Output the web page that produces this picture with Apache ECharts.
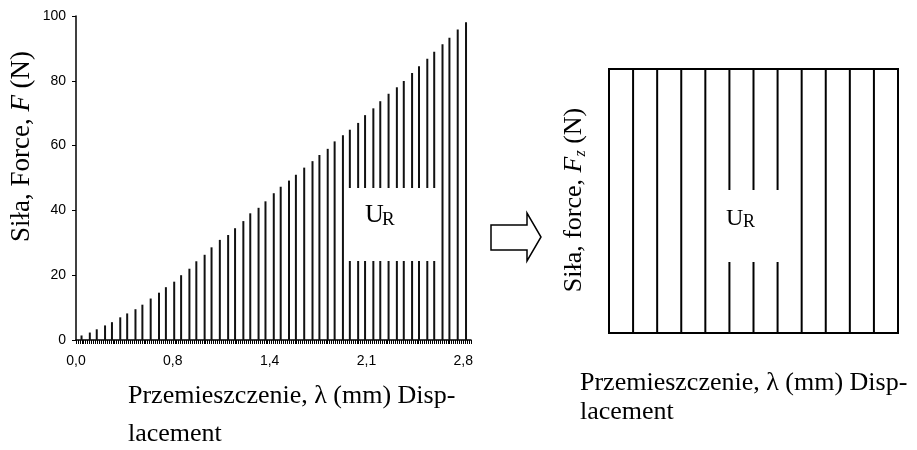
<!DOCTYPE html>
<html>
<head>
<meta charset="utf-8">
<script src="https://cdn.jsdelivr.net/npm/echarts@6/dist/echarts.min.js"></script>
<style>html,body{margin:0;padding:0;background:#fff}#c{width:917px;height:450px}</style>
</head>
<body>
<div id="c"></div>
<script>
// Left chart: displacement (mm) and force (N)
const displacement = [0.04,0.10,0.15,0.21,0.26,0.32,0.37,0.43,0.48,0.54,0.60,0.65,0.71,0.76,0.82,0.87,0.93,0.98,1.04,1.10,1.15,1.21,1.26,1.32,1.37,1.43,1.48,1.54,1.59,1.65,1.71,1.76,1.82,1.87,1.93,1.98,2.04,2.09,2.15,2.20,2.26,2.32,2.37,2.43,2.48,2.54,2.59,2.65,2.70,2.76,2.82];
const force = [1.4,2.3,3.3,4.5,5.5,7.0,8.2,9.5,10.9,12.8,14.6,16.3,18.0,20.0,22.0,24.3,26.3,28.6,30.9,32.4,34.5,36.7,39.1,40.8,42.8,45.3,47.3,49.2,51.0,53.2,55.2,57.1,59.0,61.3,63.2,64.9,67.0,69.4,71.5,73.7,76.0,78.0,79.9,82.4,84.5,86.8,89.0,91.3,93.3,95.8,98.1];
const xTickLabels = ['0,0','0,8','1,4','2,1','2,8'];
const yTickLabels = ['0','20','40','60','80','100'];
// Right chart: constant force lines
const rightPos = [0,1,2,3,4,5,6,7,8,9,10,11,12];
const rightForce = [100,100,100,100,100,100,100,100,100,100,100,100,100];

const serif = 'Liberation Serif';
const sans = 'Liberation Sans';
const chart = echarts.init(document.getElementById('c'), null, {renderer:'canvas'});

const option = {
  animation: false,
  backgroundColor: '#fff',
  grid: [
    {left: 76, top: 16, width: 395, height: 324},
    {left: 609, top: 69, width: 289, height: 264, show: true, borderColor: '#000', borderWidth: 2, backgroundColor: 'transparent'}
  ],
  xAxis: [
    {
      type: 'value', gridIndex: 0, min: 0, max: 2.856, interval: 0.014,
      axisLine: {show: true, lineStyle: {color: '#000', width: 1.5}},
      axisTick: {show: true, length: 4, lineStyle: {color: '#000', width: 1}},
      splitLine: {show: false},
      axisLabel: {
        margin: 14, fontSize: 14, fontFamily: sans, color: '#000',
        formatter: function (v) {
          const i = Math.round(v / 0.7);
          if (Math.abs(v - i * 0.7) < 1e-4 && i < xTickLabels.length) return xTickLabels[i];
          return '';
        }
      }
    },
    {
      type: 'value', gridIndex: 1, min: 0, max: 12,
      axisLine: {show: false}, axisTick: {show: false}, axisLabel: {show: false}, splitLine: {show: false}
    }
  ],
  yAxis: [
    {
      type: 'value', gridIndex: 0, min: 0, max: 100, interval: 20,
      axisLine: {show: true, lineStyle: {color: '#000', width: 1.5}},
      axisTick: {show: true, length: 4, lineStyle: {color: '#000'}},
      splitLine: {show: false},
      axisLabel: {
        margin: 10, fontSize: 14, fontFamily: sans, color: '#000',
        formatter: function (v) { return yTickLabels[Math.round(v / 20)]; }
      }
    },
    {
      type: 'value', gridIndex: 1, min: 0, max: 100,
      axisLine: {show: false}, axisTick: {show: false}, axisLabel: {show: false}, splitLine: {show: false}
    }
  ],
  series: [
    {
      type: 'bar', xAxisIndex: 0, yAxisIndex: 0, barWidth: 2,
      itemStyle: {color: '#111'},
      data: displacement.map((x, i) => [x, force[i]])
    },
    {
      type: 'bar', xAxisIndex: 1, yAxisIndex: 1, barWidth: 2, clip: false,
      itemStyle: {color: '#000'},
      data: rightPos.map((x, i) => [x, rightForce[i]])
    }
  ],
  graphic: [
    // white label boxes
    {type: 'rect', z: 100, shape: {x: 347, y: 188, width: 93.5, height: 73}, style: {fill: '#fff'}},
    {type: 'text', z: 101, x: 365, y: 215, style: {text: 'U', font: '26px ' + serif, fill: '#000', verticalAlign: 'middle', align: 'left'}},
    {type: 'text', z: 101, x: 382, y: 220, style: {text: 'R', font: '19px ' + serif, fill: '#000', verticalAlign: 'middle', align: 'left'}},
    {type: 'rect', z: 100, shape: {x: 708, y: 190, width: 92, height: 72}, style: {fill: '#fff'}},
    {type: 'text', z: 101, x: 726, y: 218.5, style: {text: 'U', font: '24px ' + serif, fill: '#000', verticalAlign: 'middle', align: 'left'}},
    {type: 'text', z: 101, x: 743, y: 222.5, style: {text: 'R', font: '18px ' + serif, fill: '#000', verticalAlign: 'middle', align: 'left'}},
    // arrow
    {type: 'polygon', z: 100, shape: {points: [[491,225],[527,225],[527,213],[541,237],[527,261],[527,250],[491,250]]},
      style: {fill: '#fff', stroke: '#000', lineWidth: 1.5}},
    // left y title
    {type: 'text', z: 100, x: 22, y: 146.5, rotation: Math.PI / 2,
      style: {text: 'Siła, Force, {i|F} (N)', font: '27px ' + serif, fill: '#000', align: 'center', verticalAlign: 'middle',
        rich: {i: {fontFamily: serif, fontSize: 27, fontStyle: 'italic', fill: '#000'}}}},
    // right y title
    {type: 'text', z: 100, x: 574, y: 200, rotation: Math.PI / 2,
      style: {text: 'Siła, force, {i|F}{s|z} (N)', font: '26px ' + serif, fill: '#000', align: 'center', verticalAlign: 'middle', lineHeight: 30,
        rich: {i: {fontFamily: serif, fontSize: 26, fontStyle: 'italic', fill: '#000', lineHeight: 30},
               s: {fontFamily: serif, fontSize: 16, fontStyle: 'italic', fill: '#000', verticalAlign: 'bottom', lineHeight: 16}}}},
    // x titles
    {type: 'text', z: 100, x: 128, y: 396, style: {text: 'Przemieszczenie, λ (mm) Disp-', font: '26px ' + serif, fill: '#000', verticalAlign: 'middle'}},
    {type: 'text', z: 100, x: 128, y: 434, style: {text: 'lacement', font: '26px ' + serif, fill: '#000', verticalAlign: 'middle'}},
    {type: 'text', z: 100, x: 580, y: 383, style: {text: 'Przemieszczenie, λ (mm) Disp-', font: '26px ' + serif, fill: '#000', verticalAlign: 'middle'}},
    {type: 'text', z: 100, x: 580, y: 412, style: {text: 'lacement', font: '26px ' + serif, fill: '#000', verticalAlign: 'middle'}}
  ]
};
chart.setOption(option);
</script>
</body>
</html>
